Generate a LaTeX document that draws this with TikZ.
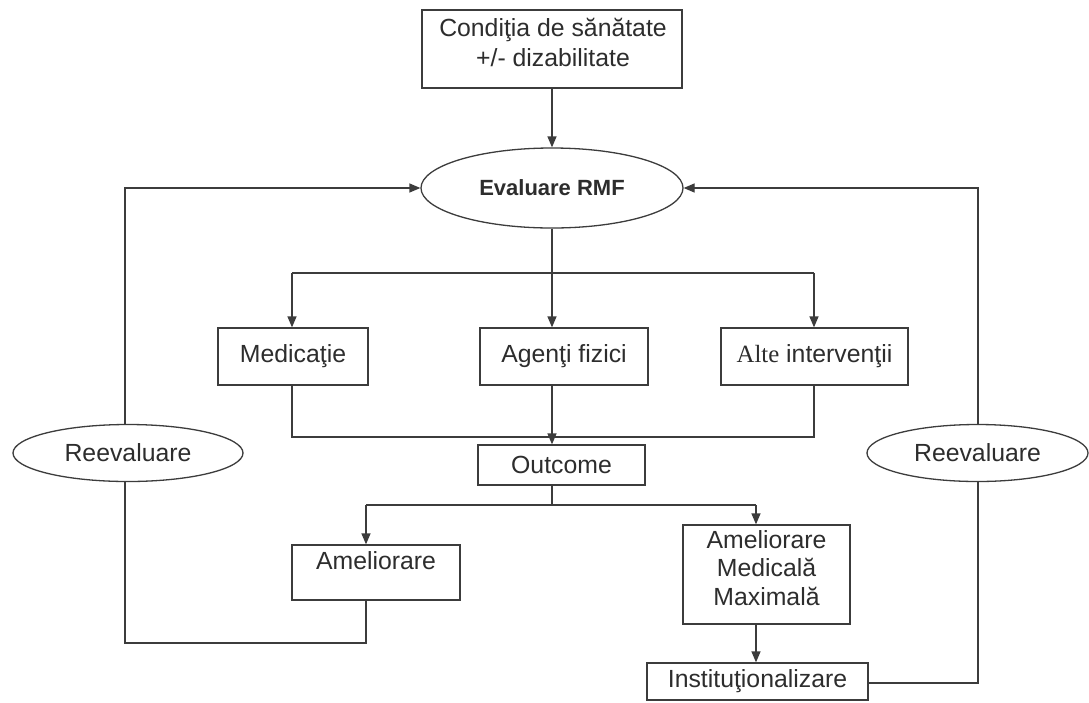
\documentclass[tikz,border=0pt]{standalone}
\usepackage{fontspec}
\setmainfont{Liberation Sans}
\newfontfamily\serifalt{Liberation Serif}
\usetikzlibrary{shapes.geometric,arrows.meta}
\definecolor{linegray}{RGB}{60,60,60}
\definecolor{txtgray}{RGB}{45,45,45}
\begin{document}
\begin{tikzpicture}[x=1pt,y=-1pt,
  every node/.style={text=txtgray, font=\fontsize{24.8}{30}\selectfont, inner sep=0pt},
  box/.style={draw=linegray, line width=1.3pt, rectangle},
  oval/.style={draw=linegray, line width=1.3pt, ellipse},
  conn/.style={draw=linegray, line width=1.3pt},
  arr/.style={conn, -{Triangle[length=11pt,width=9pt]}},
]
\fill[white] (0,0) rectangle (1089,702);
\useasboundingbox (0,0) rectangle (1089,702);

% nodes
\node[box, minimum width=260, minimum height=78] (cond) at (552,49) {};
\node[align=center] (condt) at (553,42) {Condiţia de sănătate\\+/- dizabilitate};
\node[oval, minimum width=262, minimum height=80, font=\bfseries\fontsize{22}{26}\selectfont] (eval) at (552,188) {Evaluare RMF};

\node[box, minimum width=150, minimum height=57] (med) at (293,356.5) {Medicaţie};
\node[box, minimum width=168, minimum height=57] (ag) at (564,356.5) {Agenţi fizici};
\node[box, minimum width=187, minimum height=57] (alte) at (814.5,356.5) {{\serifalt Alte} intervenţii};

\node[box, minimum width=167, minimum height=40] (out) at (561.5,465) {Outcome};

\node[box, minimum width=168, minimum height=55] (ame) at (376,572.5) {};
\node (amet) at (376,561) {Ameliorare};
\node[box, minimum width=167, minimum height=99] (amm) at (766.5,574.5) {};
\node[align=center, font=\fontsize{24.8}{28.5}\selectfont] (ammt) at (766.5,568) {Ameliorare\\Medicală\\Maximală};
\node[box, minimum width=221, minimum height=37] (inst) at (757.5,681.5) {Instituţionalizare};

\node[oval, minimum width=230, minimum height=57] (reL) at (128,453) {Reevaluare};
\node[oval, minimum width=221, minimum height=57] (reR) at (977.5,453) {Reevaluare};

% coordinates
\coordinate (b1) at (292,273);
\coordinate (b2) at (814,273);
\coordinate (c1) at (292,437);
\coordinate (c2) at (814,437);
\coordinate (j1) at (366,505);
\coordinate (j2) at (756,505);
\coordinate (cL) at (125,643);
\coordinate (cR) at (978,683);

% connectors
\draw[arr] (cond.south) -- (eval.north);
\draw[arr] (eval.south) -- (eval.south |- ag.north);
\draw[conn] (b1) -- (b2);
\draw[arr] (b1) -- (b1 |- med.north);
\draw[arr] (b2) -- (b2 |- alte.north);

\draw[conn] (c1 |- med.south) -- (c1) -- (c2) -- (c2 |- alte.south);
\draw[arr] (eval.south |- ag.south) -- (eval.south |- out.north);

\draw[conn] (eval.south |- out.south) -- (eval.south |- j1);
\draw[conn] (j1) -- (j2);
\draw[arr] (j1) -- (j1 |- ame.north);
\draw[arr] (j2) -- (j2 |- amm.north);
\draw[arr] (j2 |- amm.south) -- (j2 |- inst.north);

\draw[conn] (j1 |- ame.south) -- (j1 |- cL) -- (cL) -- (cL |- reL.south);
\draw[arr] (cL |- reL.north) -- (cL |- eval.west) -- (eval.west);

\draw[conn] (inst.east |- cR) -- (cR) -- (cR |- reR.south);
\draw[arr] (cR |- reR.north) -- (cR |- eval.east) -- (eval.east);
\end{tikzpicture}
\end{document}
